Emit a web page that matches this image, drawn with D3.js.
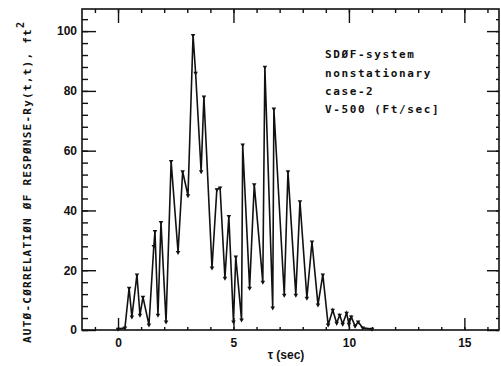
<!DOCTYPE html>
<html>
<head>
<meta charset="utf-8">
<script src="https://cdn.jsdelivr.net/npm/d3@7"></script>
<style>
  html, body { margin: 0; padding: 0; background: #fff; }
  svg { display: block; }
  .tick text { font-family: "Liberation Sans", Arial, sans-serif; font-weight: bold; font-size: 12px; fill: #111; }
  .tick line { stroke: #111; stroke-width: 1.4; }
  .mono { font-family: "DejaVu Sans Mono", "Liberation Mono", monospace; font-weight: bold; fill: #111; }
</style>
</head>
<body>
<div id="graph"></div>
<script>
// tau (sec) and auto-correlation Ry(t,t) (ft^2)
const tau = [0, 0.3, 0.48, 0.6, 0.82, 0.95, 1.08, 1.34, 1.55, 1.6, 1.73, 1.86, 2.08, 2.3, 2.6, 2.8,
  3.03, 3.25, 3.36, 3.6, 3.72, 4.07, 4.28, 4.42, 4.63, 4.8, 5.0, 5.1, 5.35, 5.4, 5.7, 5.9,
  6.27, 6.36, 6.7, 6.75, 7.2, 7.36, 7.7, 7.88, 8.18, 8.4, 8.66, 8.87, 9.1, 9.3, 9.47, 9.6,
  9.73, 9.9, 10.0, 10.1, 10.27, 10.4, 10.6, 11.0];
const ry = [0.3, 0.7, 14, 4.4, 18.5, 5, 11, 1.7, 28, 33, 5, 36, 2.7, 56.4, 26, 53,
  45, 98.6, 86, 53, 78, 20.8, 47, 47.6, 17.4, 38, 2.7, 24.5, 3.4, 62, 14, 48.7,
  16, 88, 7.4, 74, 11.7, 53, 11.7, 43, 10.7, 29.5, 8.4, 18.5, 1.7, 6.7, 2.3, 5,
  2, 5.7, 2, 4.4, 1.3, 2.7, 0.7, 0.3];

const xMajor = [0, 5, 10, 15];
const xMinor = d3.range(-1, 17);
const yMajor = [0, 20, 40, 60, 80, 100];
const yMinor = d3.range(0, 108, 4);

const notes = ['SDØF-system', 'nonstationary', 'case-2', 'V-500 (Ft/sec]'];
const yTitle = 'AUTØ-CØRRELATIØN ØF RESPØNSE-Ry(t,t), ft';
const xTitle = 'τ (sec)';

const width = 501, height = 366;
const frame = { left: 82, right: 499, top: 9, bottom: 330 };

const svg = d3.select('#graph').append('svg')
    .attr('width', width)
    .attr('height', height);

const x = d3.scaleLinear().domain([-1.56, 16.5]).range([frame.left, frame.right]);
const y = d3.scaleLinear().domain([0, 107.4]).range([frame.bottom, frame.top]);

function drawAxis(axis, tx, ty) {
    const g = svg.append('g')
        .attr('transform', 'translate(' + tx + ',' + ty + ')')
        .call(axis);
    g.select('.domain').remove();
    return g;
}

// bottom: minor + major ticks pointing inward, labels below
drawAxis(d3.axisBottom(x).tickValues(xMinor).tickSize(-3).tickFormat(''), 0, frame.bottom);
drawAxis(d3.axisBottom(x).tickValues(xMajor).tickSize(-12).tickPadding(8).tickFormat(d3.format('d')), 0, frame.bottom);
// top
drawAxis(d3.axisTop(x).tickValues(xMinor).tickSize(-4).tickFormat(''), 0, frame.top);
drawAxis(d3.axisTop(x).tickValues(xMajor).tickSize(-14).tickFormat(''), 0, frame.top);
// left
drawAxis(d3.axisLeft(y).tickValues(yMinor).tickSize(-6).tickFormat(''), frame.left, 0);
drawAxis(d3.axisLeft(y).tickValues(yMajor).tickSize(-14).tickPadding(5).tickFormat(d3.format('d')), frame.left, 0);
// right
drawAxis(d3.axisRight(y).tickValues(yMinor).tickSize(-3).tickFormat(''), frame.right, 0);
drawAxis(d3.axisRight(y).tickValues(yMajor).tickSize(-12).tickFormat(''), frame.right, 0);

// frame
svg.append('rect')
    .attr('x', frame.left).attr('y', frame.top)
    .attr('width', frame.right - frame.left)
    .attr('height', frame.bottom - frame.top)
    .attr('fill', 'none')
    .attr('stroke', '#111')
    .attr('stroke-width', 1.6);

// the curve
const pts = tau.map((t, i) => [t, ry[i]]);
const line = d3.line().x(d => x(d[0])).y(d => y(d[1]));

svg.append('path')
    .datum(pts)
    .attr('d', line)
    .attr('fill', 'none')
    .attr('stroke', '#111')
    .attr('stroke-width', 1.6)
    .attr('stroke-linejoin', 'miter');

const marker = d3.symbol().type(d3.symbolTriangle).size(9);
svg.append('g').selectAll('path')
    .data(pts)
    .enter().append('path')
        .attr('d', marker)
        .attr('transform', d => 'translate(' + x(d[0]) + ',' + y(d[1]) + ') rotate(180)')
        .attr('fill', '#111');

// annotation block
const noteY = [58, 77, 95, 113];
svg.append('g').selectAll('text')
    .data(notes)
    .enter().append('text')
        .attr('class', 'mono')
        .attr('x', 325)
        .attr('y', (d, i) => noteY[i])
        .attr('font-size', 11)
        .attr('letter-spacing', 1.6)
        .text(d => d);

// axis titles
const yt = svg.append('text')
    .attr('class', 'mono')
    .attr('transform', 'translate(31,343) rotate(-90)')
    .attr('font-size', 11)
    .attr('letter-spacing', 1.25)
    .text(yTitle);
yt.append('tspan')
    .attr('dy', -7)
    .attr('font-size', 10)
    .text('2');

svg.append('text')
    .attr('x', 286)
    .attr('y', 359)
    .attr('text-anchor', 'middle')
    .attr('font-family', '"Liberation Sans", Arial, sans-serif')
    .attr('font-weight', 'bold')
    .attr('font-size', 12)
    .attr('fill', '#111')
    .text(xTitle);
</script>
</body>
</html>
